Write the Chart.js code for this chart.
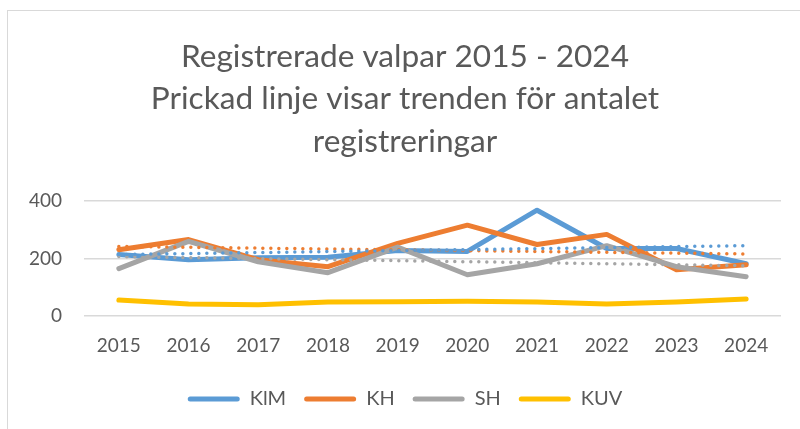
<!DOCTYPE html>
<html>
<head>
<meta charset="utf-8">
<script src="https://cdn.jsdelivr.net/npm/chart.js@4"></script>
<style>
  html, body { margin: 0; padding: 0; background: #fff; overflow: hidden; }
  #ram { position: absolute; left: 7px; top: 10px; width: 900px; height: 500px;
         border-left: 1.5px solid #d9d9d9; border-top: 1.5px solid #d9d9d9; }
  #wrap { position: absolute; left: 0; top: 0; width: 800px; height: 429px; }
</style>
</head>
<body>
<div id="ram"></div>
<div id="wrap"><canvas id="diagram"></canvas></div>
<script>
const ar = ["2015", "2016", "2017", "2018", "2019", "2020", "2021", "2022", "2023", "2024"];
const klm = [214, 196, 203, 205, 228, 225, 368, 235, 235, 182];
const kh = [231, 266, 196, 172, 253, 316, 249, 284, 161, 179];
const sh = [165, 260, 189, 151, 240, 144, 182, 245, 172, 137];
const kuv = [56, 42, 40, 49, 50, 52, 49, 42, 49, 60];
// trendlinjer: bara start- och slutvärde
const trendKlm = [214, null, null, null, null, null, null, null, null, 245];
const trendKh = [242, null, null, null, null, null, null, null, null, 216];
const trendSh = [207, null, null, null, null, null, null, null, null, 175];
const yTicks = [0, 200, 400];

const textFarg = "#595959";
const font = "Lato, 'Open Sans', sans-serif";

function serie(namn, data, farg, ordning) {
    return {
        label: namn,
        data: data,
        borderColor: farg,
        backgroundColor: farg,
        borderWidth: 5,
        borderCapStyle: "round",
        borderJoinStyle: "round",
        pointRadius: 0,
        tension: 0,
        order: ordning
    };
}

function trend(namn, data, farg) {
    return {
        label: namn,
        data: data,
        borderColor: farg,
        borderWidth: 3.5,
        borderDash: [0, 8],
        borderCapStyle: "round",
        pointRadius: 0,
        spanGaps: true,
        order: -10
    };
}

new Chart(document.getElementById("diagram").getContext("2d"), {
    type: "line",
    data: {
        labels: ar,
        datasets: [
            serie("KlM", klm, "#5b9bd5", 0),
            serie("KH", kh, "#ed7d31", -1),
            serie("SH", sh, "#a5a5a5", -2),
            serie("KUV", kuv, "#ffc000", -3),
            trend("Trend KlM", trendKlm, "#5b9bd5"),
            trend("Trend KH", trendKh, "#ed7d31"),
            trend("Trend SH", trendSh, "#a5a5a5")
        ]
    },
    options: {
        responsive: true,
        maintainAspectRatio: false,
        animation: false,
        layout: { padding: { left: 29, right: 19, top: 0, bottom: 10 } },
        plugins: {
            title: {
                display: true,
                text: ["Registrerade valpar 2015 - 2024", "Prickad linje visar trenden för antalet", "registreringar"],
                color: textFarg,
                font: { family: font, size: 31.6, weight: "normal", lineHeight: 1.35 },
                padding: { top: 35, bottom: 38 }
            },
            legend: {
                position: "bottom",
                labels: {
                    color: textFarg,
                    font: { family: font, size: 20 },
                    boxWidth: 52,
                    boxHeight: 5,
                    useBorderRadius: true,
                    borderRadius: 2.5,
                    padding: 18,
                    filter: item => item.datasetIndex < 4,
                    sort: (a, b) => a.datasetIndex - b.datasetIndex,
                    generateLabels: chart => Chart.defaults.plugins.legend.labels.generateLabels(chart)
                        .map(l => Object.assign(l, { lineWidth: 0 }))
                }
            },
            tooltip: { enabled: false }
        },
        scales: {
            x: {
                offset: true,
                grid: { display: false },
                border: { display: false },
                ticks: { color: textFarg, font: { family: font, size: 19 }, padding: 10 },
                afterFit: axis => { axis.height += 4; }
            },
            y: {
                min: 0,
                max: 400,
                afterBuildTicks: axis => { axis.ticks = yTicks.map(v => ({ value: v })); },
                afterFit: axis => { axis.width = 55; },
                grid: { color: "#d9d9d9", lineWidth: 1.5, drawTicks: false },
                border: { display: false },
                ticks: { color: textFarg, font: { family: font, size: 19 }, padding: 22 }
            }
        }
    }
});
</script>
</body>
</html>
